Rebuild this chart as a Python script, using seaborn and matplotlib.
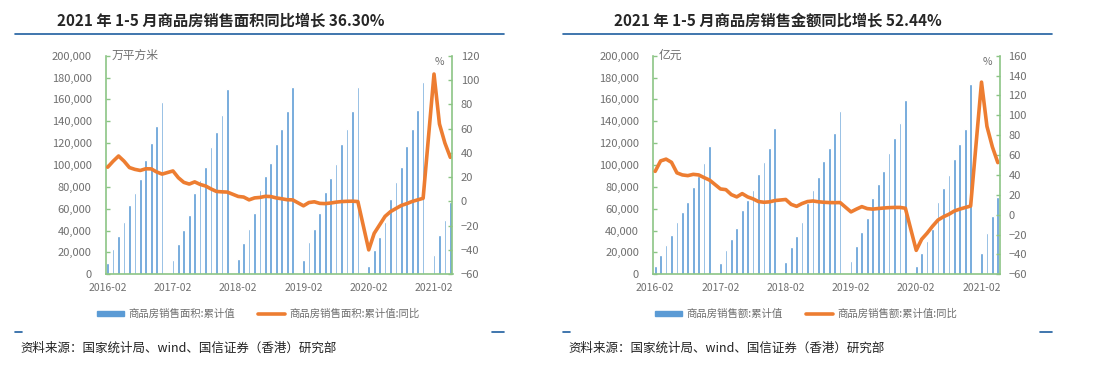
import numpy as np
import pandas as pd
import matplotlib
matplotlib.use("Agg")
import matplotlib.pyplot as plt
import seaborn as sns
from matplotlib.lines import Line2D
from matplotlib.patches import Patch
from matplotlib.ticker import FuncFormatter

sns.set_style("white")
plt.rcParams['font.family'] = ['Noto Sans CJK SC', 'DejaVu Sans']

# months 2016-02 .. 2021-05 (January has no data: Jan-Feb are reported together)
months = list(pd.period_range("2016-02", "2021-05", freq="M").strftime("%Y-%m"))
tick_labels = ["2016-02", "2017-02", "2018-02", "2019-02", "2020-02", "2021-02"]

N = None
# 商品房销售面积 累计值 (万平方米), Feb..Dec then None for January
area = [10700, 23500, 35400, 47900, 63700, 74700, 86900, 104600, 119800, 135700, 157600, N,
        13100, 27700, 40900, 54300, 74100, 86300, 98500, 116200, 130200, 146000, 169500, N,
        14000, 29000, 41200, 56100, 76800, 89900, 102100, 118900, 132900, 149100, 171300, N,
        13400, 29300, 41500, 56000, 75000, 88000, 101000, 119000, 133000, 149000, 171300, N,
        7600, 22000, 34000, 48000, 69000, 84000, 98500, 117000, 133000, 150600, 176000, N,
        17400, 35700, 49700, 66200]
# 同比 (%)
area_yoy = [28.2, 33.1, 37.4, 33.2, 27.9, 26.4, 25.5, 26.9, 26.8, 24.3, 22.5, N,
            25.1, 19.5, 15.7, 14.3, 16.1, 14.0, 12.7, 10.3, 8.2, 7.9, 7.7, N,
            4.1, 3.6, 1.3, 2.9, 3.3, 4.2, 4.0, 2.9, 2.2, 1.4, 1.3, N,
            -3.6, -0.9, -0.3, -1.6, -1.8, -1.3, -0.6, -0.1, 0.1, 0.2, -0.1, N,
            -39.9, -26.3, -19.3, -12.3, -8.4, -5.8, -3.3, -1.8, 0.0, 1.3, 2.6, N,
            104.9, 63.8, 48.1, 36.3]

# 商品房销售额 累计值 (亿元)
amount = [7600, 17700, 26800, 36300, 47900, 57000, 66200, 79600, 89900, 101800, 117100, N,
          10000, 22300, 32300, 42100, 58800, 68000, 77400, 91800, 102700, 115200, 133800, N,
          11300, 25000, 35400, 47600, 65500, 77400, 89300, 104000, 115200, 129300, 149700, N,
          12500, 26200, 38400, 51800, 70100, 82600, 94800, 111300, 124700, 138700, 159500, N,
          7600, 19800, 30800, 41500, 66500, 79000, 91200, 105800, 119200, 133200, 173800, N,
          19200, 38100, 53700, 71000]
amount_yoy = [43.6, 54.1, 55.9, 52.7, 42.1, 40.0, 39.3, 40.6, 40.0, 37.3, 34.8, N,
              25.9, 25.2, 20.2, 17.9, 21.2, 17.9, 15.9, 13.2, 12.5, 12.9, 14.2, N,
              15.3, 10.4, 8.4, 11.2, 13.2, 13.8, 13.0, 12.5, 12.2, 12.1, 12.2, N,
              2.8, 5.6, 8.1, 6.1, 5.6, 6.2, 6.7, 7.1, 7.3, 7.3, 6.5, N,
              -35.9, -24.7, -18.6, -11.6, -5.4, -2.1, 0.4, 3.7, 5.6, 7.2, 8.7, N,
              133.4, 88.9, 68.2, 52.4]

BLUE = "#5B9BD5"
ORANGE = "#ED7D31"
GREEN = "#8CC585"
GRAY = "#6F6F6F"
NAVY = "#1F5FA0"

W, H = 1094, 365
fig = plt.figure(figsize=(W / 100, H / 100), dpi=100)


def px(x, y):
    return x / W, 1 - y / H


def panel(x0, vals, yoy, yoy_lim, yoy_step, unit, bar_label, line_label):
    ax = fig.add_axes([x0 / W, 1 - 274.3 / H, 347 / W, (274.3 - 55.7) / H])
    df = pd.DataFrame({"month": months, "val": pd.to_numeric(pd.Series(vals), errors="coerce")})
    sns.barplot(data=df.dropna(), x="month", y="val", order=months, color=BLUE,
                saturation=1, width=0.5, errorbar=None, ax=ax)
    ax.set_xlim(-0.4, 63.4)
    ax.set_ylim(0, 200000)
    ax.set_yticks(np.arange(0, 200001, 20000))
    ax.yaxis.set_major_formatter(FuncFormatter(lambda v, p: f"{int(v):,}"))
    ax.set_xticks([months.index(t) for t in tick_labels])
    ax.set_xticklabels(tick_labels)
    ax.set_xlabel("")
    ax.set_ylabel("")

    ax2 = ax.twinx()
    ys = pd.to_numeric(pd.Series(yoy), errors="coerce")
    keep = ys.notna()
    sns.lineplot(x=np.arange(len(months))[keep.values], y=ys[keep].values,
                 color=ORANGE, linewidth=2.6, ax=ax2)
    ax2.set_xlim(-0.4, 63.4)
    ax2.set_ylim(*yoy_lim)
    ax2.set_yticks(np.arange(yoy_lim[0], yoy_lim[1] + 1, yoy_step))

    for a in (ax, ax2):
        for s in a.spines.values():
            s.set_visible(False)
    ax.spines["left"].set_visible(True)
    ax.spines["bottom"].set_visible(True)
    ax2.spines["right"].set_visible(True)
    for s in (ax.spines["left"], ax.spines["bottom"], ax2.spines["right"]):
        s.set_color(GREEN)
        s.set_linewidth(1.2)

    ax.tick_params(axis="y", direction="in", length=3, width=1, color=GREEN,
                   labelsize=8, labelcolor=GRAY, pad=10, left=True)
    ax.tick_params(axis="x", length=0, labelsize=7.5, labelcolor=GRAY, pad=6)
    ax2.tick_params(axis="y", direction="in", length=3, width=1, color=GREEN,
                    labelsize=8, labelcolor=GRAY, pad=6, right=True)

    fig.text(*px(x0 + 6, 55), unit, fontsize=8.5, color=GRAY, va="center", ha="left")
    fig.text(*px(x0 + 334, 62), "%", fontsize=7.5, color=GRAY, va="center", ha="center")

    handles = [Patch(color=BLUE), Line2D([0], [0], color=ORANGE, linewidth=2.6)]
    fig.legend(handles, [bar_label, line_label], loc="center",
               bbox_to_anchor=px(x0 + 153, 314), ncol=2, frameon=False,
               fontsize=7.5, labelcolor=GRAY, handlelength=2.6, handleheight=0.45,
               columnspacing=2.2, handletextpad=0.4)
    return ax


def frame(xl, xr, title, cx):
    fig.text(*px(cx, 21), title, fontsize=11, fontweight="bold", ha="center", va="center")
    fig.add_artist(Line2D([xl / W, xr / W], [1 - 34 / H] * 2, color=NAVY, linewidth=1.2,
                          transform=fig.transFigure))
    fig.add_artist(Line2D([xl / W, (xl + 7) / W], [1 - 332 / H] * 2, color=NAVY, linewidth=1.2,
                          transform=fig.transFigure))
    fig.add_artist(Line2D([(xr - 12) / W, xr / W], [1 - 332 / H] * 2, color=NAVY, linewidth=1.2,
                          transform=fig.transFigure))
    fig.text(*px(xl + 5, 348), "资料来源：国家统计局、wind、国信证券（香港）研究部",
             fontsize=9, color="#222222", ha="left", va="center")


panel(105.5, area, area_yoy, (-60, 120), 20, "万平方米",
      "商品房销售面积:累计值", "商品房销售面积:累计值:同比")
panel(653, amount, amount_yoy, (-60, 160), 20, "亿元",
      "商品房销售额:累计值", "商品房销售额:累计值:同比")

frame(15, 504, "2021 年 1-5 月商品房销售面积同比增长 36.30%", 221)
frame(563, 1052, "2021 年 1-5 月商品房销售金额同比增长 52.44%", 778)

fig.savefig("out.png", dpi=100)
